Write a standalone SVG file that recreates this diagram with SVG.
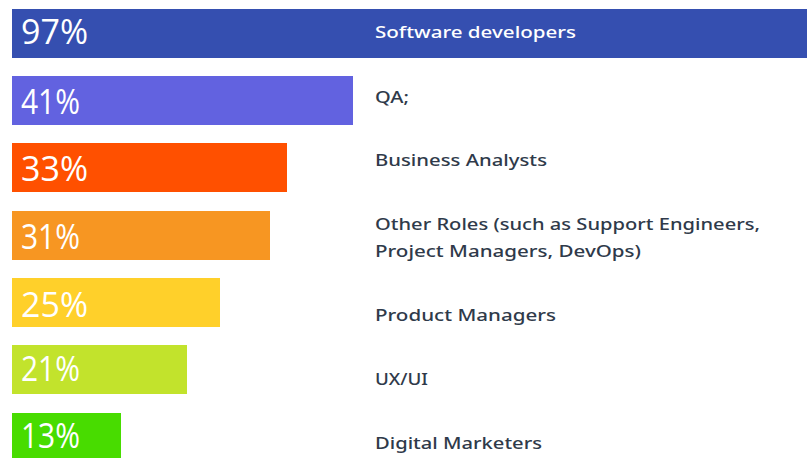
<svg xmlns="http://www.w3.org/2000/svg" width="807" height="458" viewBox="0 0 807 458">
<style>
.pct{font-family:"Open Sans","Liberation Sans",sans-serif;font-size:34px;font-weight:500;fill:#ffffff}
.lbl{font-family:"Noto Sans","Liberation Sans",sans-serif;font-size:17px;font-weight:500;fill:#2f3a4a}
.lbl.w{fill:#ffffff}
</style>
<rect width="807" height="458" fill="#ffffff"/>
<g id="bar-software-developers">
<rect x="12" y="9" width="795" height="49" fill="#354fb0"/>
<text class="pct" x="21" y="44" textLength="67" lengthAdjust="spacingAndGlyphs">97%</text>
<text class="lbl w" x="375" y="38" textLength="201" lengthAdjust="spacingAndGlyphs">Software developers</text>
</g>
<g id="bar-qa">
<rect x="12" y="76" width="341" height="49" fill="#6262e0"/>
<text class="pct" x="21" y="114" textLength="59" lengthAdjust="spacingAndGlyphs">41%</text>
<text class="lbl" x="375" y="103" textLength="34" lengthAdjust="spacingAndGlyphs">QA;</text>
</g>
<g id="bar-business-analysts">
<rect x="12" y="143" width="275" height="49" fill="#ff5000"/>
<text class="pct" x="21" y="181" textLength="67" lengthAdjust="spacingAndGlyphs">33%</text>
<text class="lbl" x="375" y="166" textLength="172" lengthAdjust="spacingAndGlyphs">Business Analysts</text>
</g>
<g id="bar-other-roles">
<rect x="12" y="211" width="258" height="49" fill="#f79622"/>
<text class="pct" x="21" y="249" textLength="59" lengthAdjust="spacingAndGlyphs">31%</text>
<text class="lbl" x="375" y="230" textLength="385" lengthAdjust="spacingAndGlyphs">Other Roles (such as Support Engineers,</text>
<text class="lbl" x="375" y="257" textLength="266" lengthAdjust="spacingAndGlyphs">Project Managers, DevOps)</text>
</g>
<g id="bar-product-managers">
<rect x="12" y="278" width="208" height="49" fill="#ffd02a"/>
<text class="pct" x="21" y="317" textLength="67" lengthAdjust="spacingAndGlyphs">25%</text>
<text class="lbl" x="375" y="321" textLength="181" lengthAdjust="spacingAndGlyphs">Product Managers</text>
</g>
<g id="bar-ux-ui">
<rect x="12" y="345" width="175" height="49" fill="#c2e32c"/>
<text class="pct" x="21" y="381" textLength="59" lengthAdjust="spacingAndGlyphs">21%</text>
<text class="lbl" x="375" y="385" textLength="53" lengthAdjust="spacingAndGlyphs">UX/UI</text>
</g>
<g id="bar-digital-marketers">
<rect x="12" y="413" width="109" height="45" fill="#48dc00"/>
<text class="pct" x="21" y="448" textLength="59" lengthAdjust="spacingAndGlyphs">13%</text>
<text class="lbl" x="375" y="449" textLength="167" lengthAdjust="spacingAndGlyphs">Digital Marketers</text>
</g>
<g id="connectors"/>
</svg>
